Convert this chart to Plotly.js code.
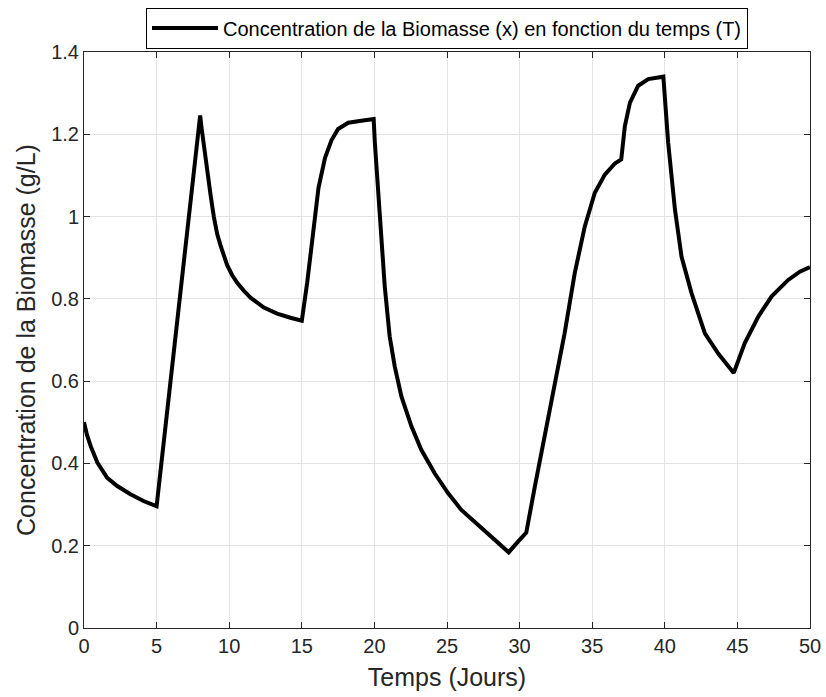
<!DOCTYPE html>
<html>
<head>
<meta charset="utf-8">
<script src="https://cdn.plot.ly/plotly-3.0.1.min.js"></script>
<style>html,body{margin:0;padding:0;background:#fff;}#chart{width:826px;height:697px;}</style>
</head>
<body>
<div id="chart"></div>
<script>
const seriesName = "Concentration de la Biomasse (x) en fonction du temps (T)";
const temps = [0, 0.2, 0.46, 0.92, 1.6, 2.29, 3.2, 4.13, 5.0,
  8.0, 8.1, 8.26, 8.49, 8.72, 8.94, 9.17, 9.4, 9.63, 9.86, 10.2, 10.55, 11.0, 11.47, 12.39, 13.3, 14.22, 15.0,
  15.37, 15.83, 16.15, 16.6, 17.05, 17.5, 18.2, 19.1, 19.95,
  20.03, 20.25, 20.48, 20.71, 21.05, 21.4, 21.86, 22.55, 23.23, 24.15, 25.07, 25.99, 27.13, 28.28, 29.25,
  29.89, 30.46, 31.04, 31.73, 32.42, 33.1, 33.8, 34.49, 35.18, 35.87, 36.56, 37.0,
  37.25, 37.6, 38.17, 38.86, 39.9,
  40.05, 40.23, 40.7, 41.15, 41.84, 42.76, 43.68, 44.75,
  45.5, 46.44, 47.36, 48.5, 49.3, 50];
const biomasse = [0.50, 0.47, 0.442, 0.402, 0.365, 0.345, 0.325, 0.308, 0.296,
  1.246, 1.215, 1.17, 1.11, 1.052, 1.0, 0.958, 0.93, 0.903, 0.882, 0.858, 0.839, 0.82, 0.803, 0.779, 0.764, 0.754, 0.747,
  0.839, 0.98, 1.07, 1.143, 1.186, 1.213, 1.228, 1.233, 1.237,
  1.18, 1.058, 0.936, 0.831, 0.709, 0.636, 0.563, 0.49, 0.433, 0.376, 0.328, 0.287, 0.251, 0.214, 0.184,
  0.21, 0.232, 0.342, 0.464, 0.586, 0.716, 0.863, 0.976, 1.058, 1.102, 1.129, 1.139,
  1.22, 1.277, 1.318, 1.334, 1.34,
  1.277, 1.18, 1.017, 0.903, 0.814, 0.716, 0.667, 0.62,
  0.692, 0.757, 0.806, 0.846, 0.866, 0.877];
const xTicks = [0, 5, 10, 15, 20, 25, 30, 35, 40, 45, 50];
const yTicks = [0, 0.2, 0.4, 0.6, 0.8, 1, 1.2, 1.4];
const yTickText = ["0", "0.2", "0.4", "0.6", "0.8", "1", "1.2", "1.4"];

const fontFam = "Liberation Sans, Arial, Helvetica, sans-serif";
const axCol = "#262626";

const trace = {
  x: temps, y: biomasse, type: "scatter", mode: "lines", name: seriesName,
  line: {color: "#000000", width: 4}
};

const axisCommon = {
  showline: true, linecolor: axCol, linewidth: 1, mirror: "ticks",
  ticks: "inside", ticklen: 6, tickcolor: axCol, tickwidth: 1,
  showgrid: true, gridcolor: "#e3e3e3", gridwidth: 1,
  zeroline: false,
  tickfont: {family: fontFam, size: 20, color: axCol}
};

const layout = {
  width: 826, height: 697,
  margin: {l: 84, r: 16, t: 52, b: 69},
  paper_bgcolor: "#ffffff", plot_bgcolor: "#ffffff",
  font: {family: fontFam, color: axCol},
  showlegend: true,
  legend: {
    xref: "paper", x: 0.5, xanchor: "center",
    yref: "container", y: 0.9598, yanchor: "middle",
    bordercolor: "#000000", borderwidth: 1, bgcolor: "#ffffff",
    font: {family: fontFam, size: 20, color: "#000000"},
    itemwidth: 66, tracegroupgap: 0
  },
  xaxis: Object.assign({}, axisCommon, {
    range: [0, 50], tickvals: xTicks, ticktext: xTicks.map(String),
    title: {text: "Temps (Jours)", font: {family: fontFam, size: 25, color: axCol}, standoff: 12}
  }),
  yaxis: Object.assign({}, axisCommon, {
    range: [0, 1.4], tickvals: yTicks, ticktext: yTickText,
    title: {text: "Concentration de la Biomasse (g/L)", font: {family: fontFam, size: 25, color: axCol}, standoff: 8}
  })
};

Plotly.newPlot("chart", [trace], layout, {displayModeBar: false, staticPlot: true});
</script>
</body>
</html>
